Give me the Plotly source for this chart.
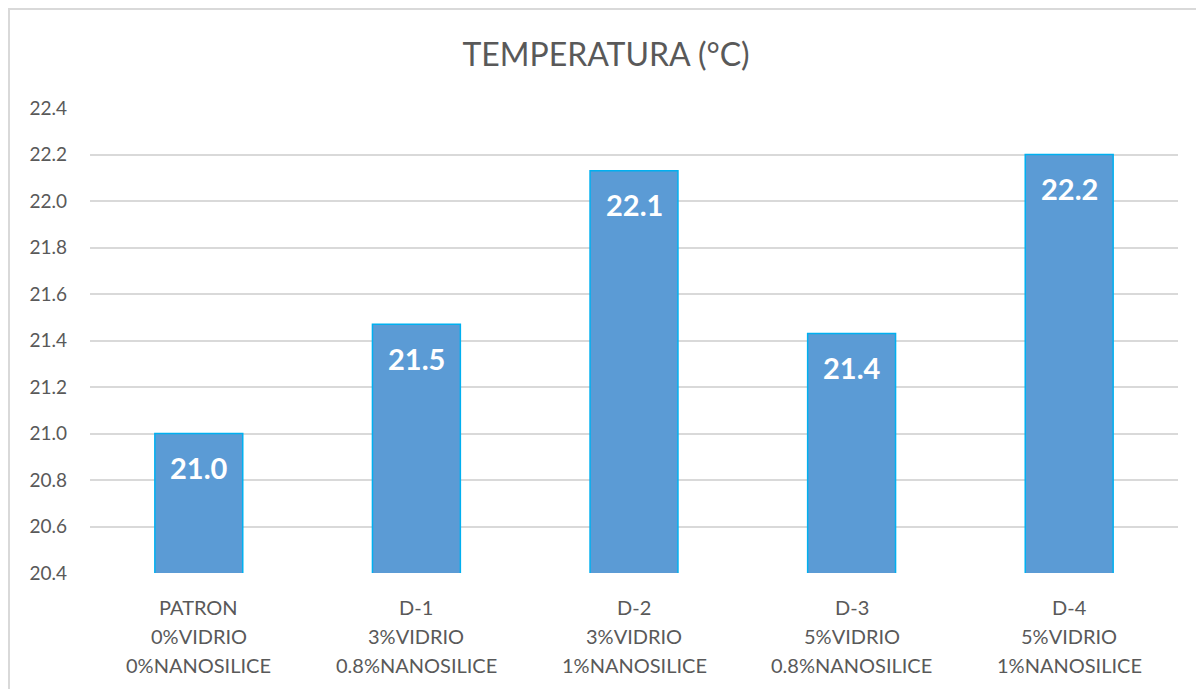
import plotly.graph_objects as go

categories = ["PATRON", "D-1", "D-2", "D-3", "D-4"]
glass = ["0%VIDRIO", "3%VIDRIO", "3%VIDRIO", "5%VIDRIO", "5%VIDRIO"]
nanosilica = ["0%NANOSILICE", "0.8%NANOSILICE", "1%NANOSILICE", "0.8%NANOSILICE", "1%NANOSILICE"]
values = [21.0, 21.47, 22.13, 21.43, 22.2]
y_ticks = [20.4, 20.6, 20.8, 21.0, 21.2, 21.4, 21.6, 21.8, 22.0, 22.2, 22.4]

FONT = "Lato"
GRAY = "#595959"

fig = go.Figure()
fig.add_trace(go.Bar(
    x=categories, y=values,
    marker=dict(color="#5B9BD5", line=dict(color="#00B0F0", width=1.5)),
    hoverinfo="skip",
))

for c, v in zip(categories, values):
    fig.add_annotation(x=c, y=v, text=f"{v:.1f}", showarrow=False,
                       yanchor="middle", yshift=-34,
                       font=dict(family=FONT, size=29, color="white", weight="bold"))

for c, g, n in zip(categories, glass, nanosilica):
    for i, line in enumerate([c, g, n]):
        fig.add_annotation(x=c, y=0, yref="paper", text=line, showarrow=False,
                           yanchor="middle", yshift=-(34 + 29 * i),
                           font=dict(family=FONT, size=20, color=GRAY))

# the page has an 8px body margin, so the figure is drawn 8px smaller/shifted
W, H = 1196, 681
L, R, T, B = 82, 26, 100, 116
pw, ph = W - L - R, H - T - B

def px_x(p):
    return (p - L) / pw

def px_y(p):
    return (H - B - p) / ph

fig.add_shape(type="rect", xref="paper", yref="paper",
              x0=px_x(1), x1=px_x(1210), y0=px_y(700), y1=px_y(1),
              line=dict(color="#D9D9D9", width=2), fillcolor="rgba(0,0,0,0)", layer="below")

fig.update_layout(
    width=W, height=H,
    margin=dict(l=L, r=R, t=T, b=B),
    paper_bgcolor="white", plot_bgcolor="white",
    bargap=0.596,
    showlegend=False,
    title=dict(text="TEMPERATURA (°C)", x=0.5, xref="container", xanchor="center",
               y=1 - 47 / H, yanchor="middle", yref="container",
               font=dict(family=FONT, size=32, color=GRAY)),
    font=dict(family=FONT, color=GRAY),
)
fig.update_xaxes(showgrid=False, showline=False, ticks="", showticklabels=False)
fig.update_yaxes(range=[20.4, 22.4], tickvals=y_ticks,
                 ticktext=[f"{t:.1f}" for t in y_ticks],
                 showgrid=True, gridcolor="#D9D9D9", gridwidth=1.5,
                 zeroline=False, showline=False, ticks="", ticklabelstandoff=22,
                 tickfont=dict(family=FONT, size=19, color=GRAY))

fig.write_html("out.html")
